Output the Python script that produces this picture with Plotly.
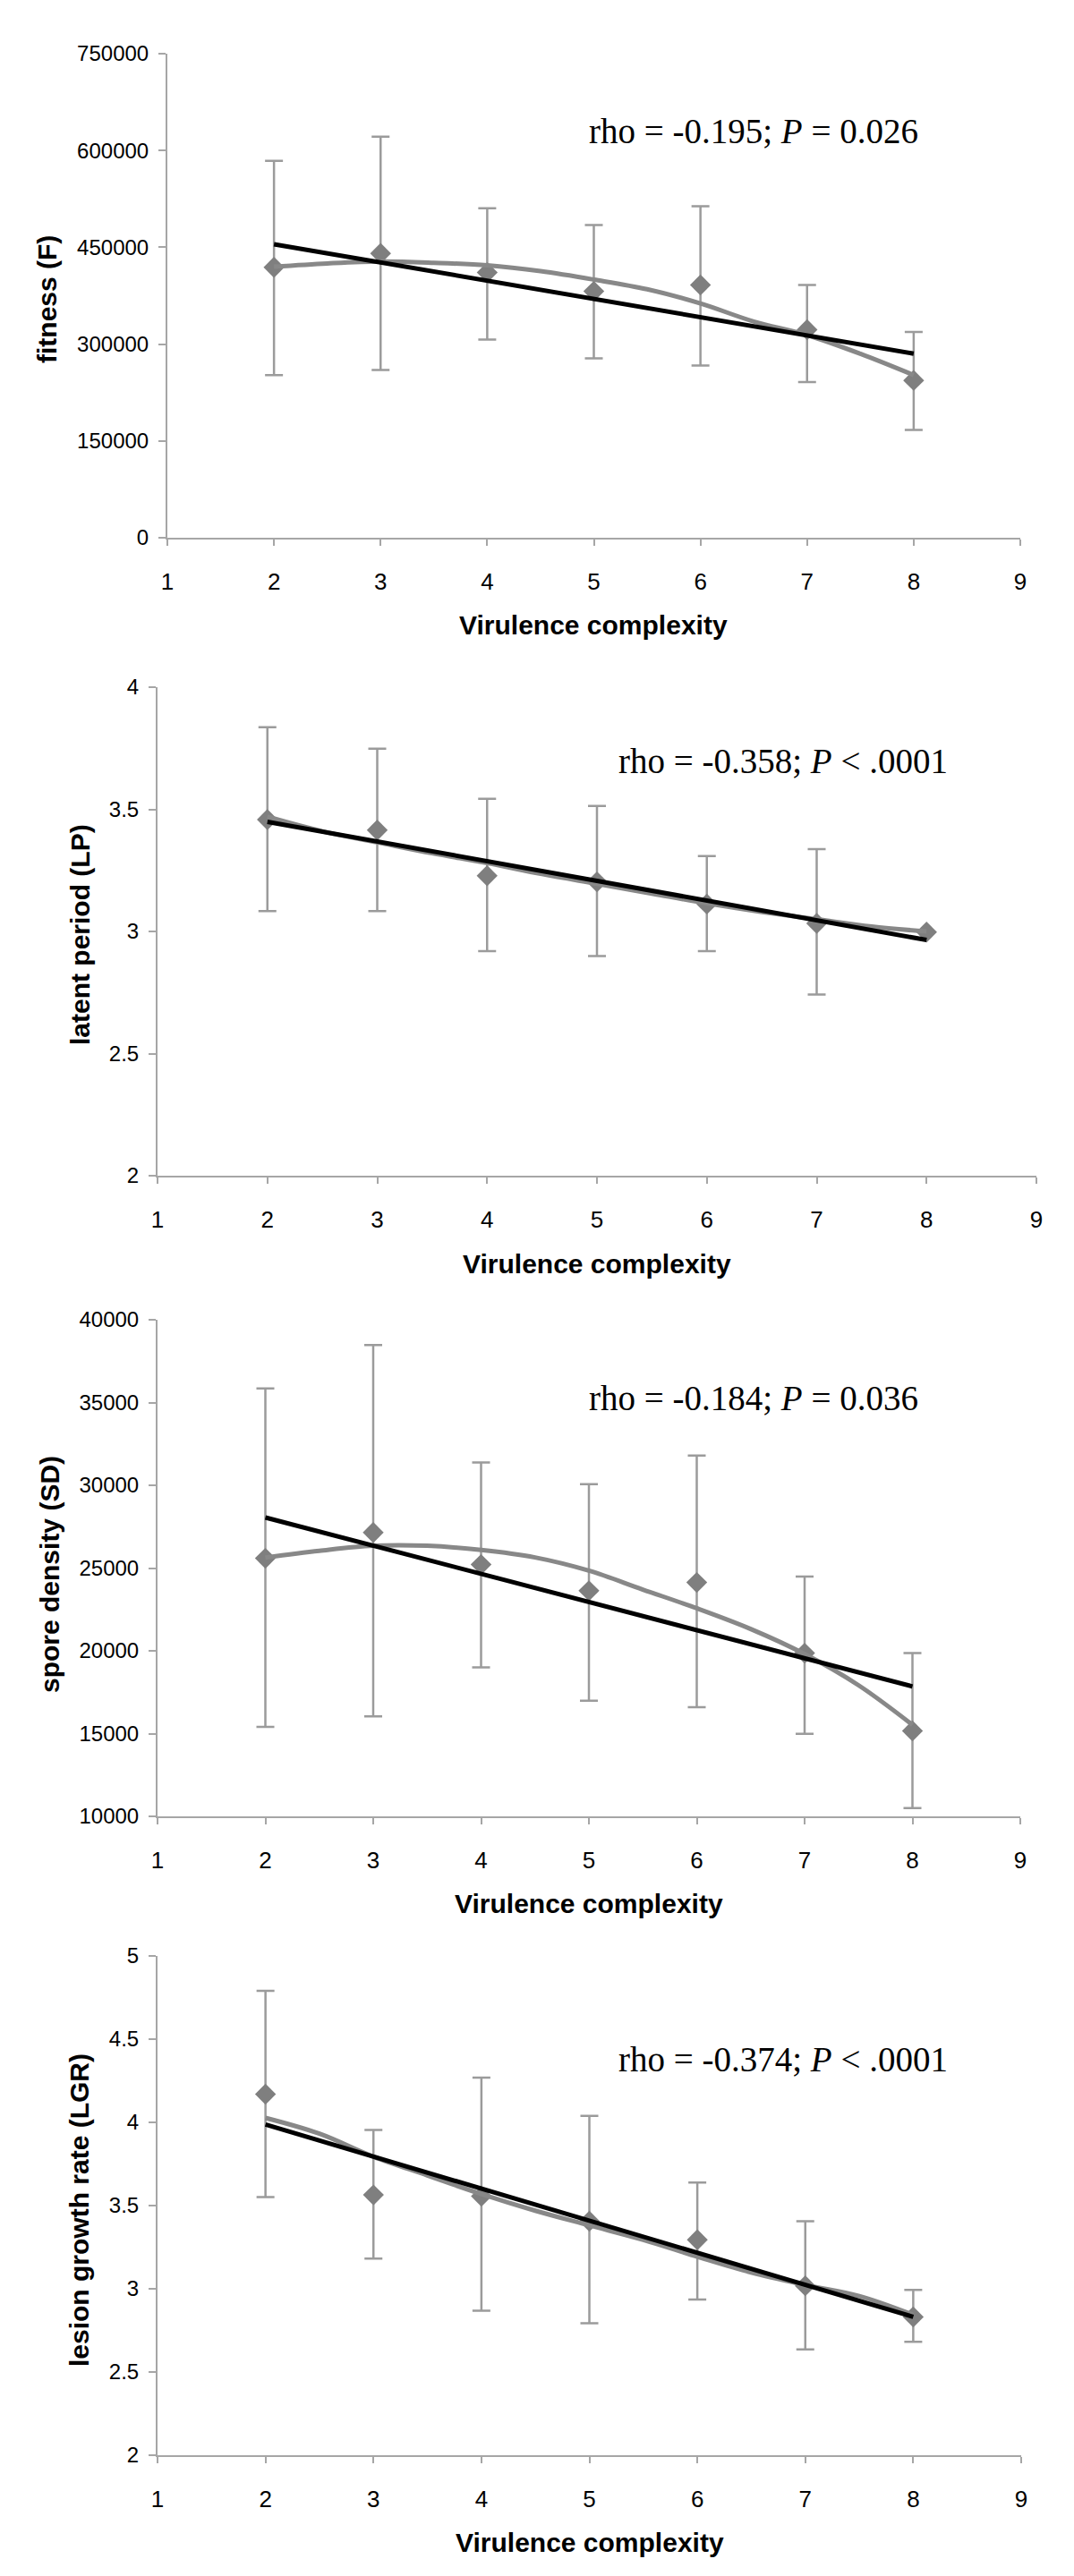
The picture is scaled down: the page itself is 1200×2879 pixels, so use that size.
import plotly.graph_objects as go

W, H = 1200, 2879

# ---------------- data ----------------
x_vals = [2, 3, 4, 5, 6, 7, 8]
x_tick_vals = [1, 2, 3, 4, 5, 6, 7, 8, 9]
curve_x = [2, 2.5, 3, 3.5, 4, 4.5, 5, 5.5, 6, 6.5, 7, 7.5, 8]
trend_x = [2, 8]
x_title = "Virulence complexity"

# Panel 1: fitness (F)
fit_mean = [419000, 440600, 410900, 381800, 391700, 322400, 243800]
fit_upper = [584000, 621300, 510500, 484500, 513600, 391700, 318700]
fit_lower = [251900, 259900, 306900, 277800, 266700, 241300, 167100]
fit_curve = [420000, 425000, 428000, 426000, 422000, 413000, 400000,
             385000, 363000, 335000, 314000, 285000, 252000]
fit_trend = [454800, 285300]
fit_ticks = [0, 150000, 300000, 450000, 600000, 750000]
fit_title = "fitness (F)"
fit_stat = "rho = -0.195; <i>P</i> = 0.026"

# Panel 2: latent period (LP)
lp_mean = [3.458, 3.415, 3.228, 3.203, 3.112, 3.033, 2.997]
lp_upper = [3.836, 3.748, 3.543, 3.514, 3.309, 3.337, 2.997]
lp_lower = [3.083, 3.083, 2.919, 2.899, 2.919, 2.742, 2.997]
lp_curve = [3.47, 3.41, 3.365, 3.32, 3.28, 3.235, 3.195,
            3.155, 3.115, 3.08, 3.05, 3.02, 3.0]
lp_trend = [3.449, 2.965]
lp_ticks = [2, 2.5, 3, 3.5, 4]
lp_title = "latent period (LP)"
lp_stat = "rho = -0.358; <i>P</i> &lt; .0001"

# Panel 3: spore density (SD)
sd_mean = [25590, 27150, 25210, 23630, 24130, 19860, 15160]
sd_upper = [35850, 38470, 31380, 30070, 31800, 24480, 19860]
sd_lower = [15410, 16040, 19000, 16990, 16590, 14980, 10500]
sd_curve = [25640, 26040, 26345, 26345, 26090, 25640, 24840,
            23700, 22570, 21320, 19810, 17920, 15530]
sd_trend = [28055, 17846]
sd_ticks = [10000, 15000, 20000, 25000, 30000, 35000, 40000]
sd_title = "spore density (SD)"
sd_stat = "rho = -0.184; <i>P</i> = 0.036"

# Panel 4: lesion growth rate (LGR)
lgr_mean = [4.169, 3.564, 3.556, 3.406, 3.294, 3.018, 2.831]
lgr_upper = [4.790, 3.954, 4.269, 4.039, 3.639, 3.406, 2.993]
lgr_lower = [3.551, 3.181, 2.868, 2.793, 2.936, 2.636, 2.681]
lgr_curve = [4.027, 3.932, 3.794, 3.681, 3.569, 3.469, 3.381,
             3.294, 3.193, 3.098, 3.023, 2.956, 2.843]
lgr_trend = [3.987, 2.831]
lgr_ticks = [2, 2.5, 3, 3.5, 4, 4.5, 5]
lgr_title = "lesion growth rate (LGR)"
lgr_stat = "rho = -0.374; <i>P</i> &lt; .0001"

# ---------------- layout geometry (pixels) ----------------
panels = [
    dict(mean=fit_mean, upper=fit_upper, lower=fit_lower, curve=fit_curve, trend=fit_trend,
         ticks=fit_ticks, title=fit_title, stat=fit_stat,
         px=(187, 1140), py=(60, 601), stat_xy=(842, 146), ytitle_xy=(53, 335), xtitle_y=698),
    dict(mean=lp_mean, upper=lp_upper, lower=lp_lower, curve=lp_curve, trend=lp_trend,
         ticks=lp_ticks, title=lp_title, stat=lp_stat,
         px=(176, 1158), py=(768, 1314), stat_xy=(875, 850), ytitle_xy=(89, 1045), xtitle_y=1412),
    dict(mean=sd_mean, upper=sd_upper, lower=sd_lower, curve=sd_curve, trend=sd_trend,
         ticks=sd_ticks, title=sd_title, stat=sd_stat,
         px=(176, 1140), py=(1475, 2030), stat_xy=(842, 1563), ytitle_xy=(55, 1760), xtitle_y=2127),
    dict(mean=lgr_mean, upper=lgr_upper, lower=lgr_lower, curve=lgr_curve, trend=lgr_trend,
         ticks=lgr_ticks, title=lgr_title, stat=lgr_stat,
         px=(176, 1141), py=(2186, 2744), stat_xy=(875, 2301), ytitle_xy=(88, 2470), xtitle_y=2841),
]

MARKER_GRAY = "#7f7f7f"
CURVE_GRAY = "#888888"
ERR_GRAY = "#9b9b9b"
AXIS_GRAY = "#a6a6a6"
SANS = "Liberation Sans, Arial, sans-serif"
SERIF = "Liberation Serif, Times New Roman, serif"


def fx(p):
    return p / W


def fy(p):
    return 1 - p / H


fig = go.Figure()
layout = dict(
    template="none",
    width=W, height=H, margin=dict(l=0, r=0, t=0, b=0, pad=0, autoexpand=False),
    paper_bgcolor="white", plot_bgcolor="white", showlegend=False,
    annotations=[],
)

for i, p in enumerate(panels, start=1):
    xa = "x" if i == 1 else f"x{i}"
    ya = "y" if i == 1 else f"y{i}"
    err_plus = [u - m for u, m in zip(p["upper"], p["mean"])]
    err_minus = [m - l for m, l in zip(p["mean"], p["lower"])]

    fig.add_trace(go.Scatter(
        x=x_vals, y=p["mean"], mode="markers", xaxis=xa, yaxis=ya,
        marker=dict(symbol="diamond", size=18, color=MARKER_GRAY, line=dict(width=0)),
        error_y=dict(type="data", symmetric=False, array=err_plus, arrayminus=err_minus,
                     color=ERR_GRAY, thickness=2.5, width=10),
        hoverinfo="skip",
    ))
    fig.add_trace(go.Scatter(
        x=curve_x, y=p["curve"], mode="lines", xaxis=xa, yaxis=ya,
        line=dict(color=CURVE_GRAY, width=5, shape="spline"),
        hoverinfo="skip",
    ))
    fig.add_trace(go.Scatter(
        x=trend_x, y=p["trend"], mode="lines", xaxis=xa, yaxis=ya,
        line=dict(color="black", width=5),
        hoverinfo="skip",
    ))

    yt = p["ticks"]
    layout["xaxis" if i == 1 else f"xaxis{i}"] = dict(
        domain=[fx(p["px"][0]), fx(p["px"][1])], anchor=ya, automargin=False,
        range=[1, 9], tickvals=x_tick_vals, ticktext=[str(v) for v in x_tick_vals],
        showline=True, linecolor=AXIS_GRAY, linewidth=2,
        ticks="outside", ticklen=7, tickwidth=2, tickcolor=AXIS_GRAY,
        showgrid=False, zeroline=False, ticklabelstandoff=18,
        tickfont=dict(family=SANS, size=26, color="black"),
    )
    layout["yaxis" if i == 1 else f"yaxis{i}"] = dict(
        domain=[fy(p["py"][1]), fy(p["py"][0])], anchor=xa, automargin=False,
        range=[yt[0], yt[-1]], tickvals=yt, ticktext=[f"{v:g}" if v < 1000 else str(int(v)) for v in yt],
        showline=True, linecolor=AXIS_GRAY, linewidth=2,
        ticks="outside", ticklen=8, tickwidth=2, tickcolor=AXIS_GRAY,
        showgrid=False, zeroline=False, ticklabelstandoff=6,
        tickfont=dict(family=SANS, size=24, color="black"),
    )

    layout["annotations"] += [
        dict(text=p["stat"], xref="paper", yref="paper",
             x=fx(p["stat_xy"][0]), y=fy(p["stat_xy"][1]), xanchor="center", yanchor="middle",
             showarrow=False, font=dict(family=SERIF, size=39, color="black")),
        dict(text="<b>" + p["title"] + "</b>", xref="paper", yref="paper",
             x=fx(p["ytitle_xy"][0]), y=fy(p["ytitle_xy"][1]), xanchor="center", yanchor="middle",
             textangle=-90, showarrow=False, font=dict(family=SANS, size=30, color="black")),
        dict(text="<b>" + x_title + "</b>", xref="paper", yref="paper",
             x=fx((p["px"][0] + p["px"][1]) / 2), y=fy(p["xtitle_y"]), xanchor="center", yanchor="middle",
             showarrow=False, font=dict(family=SANS, size=30, color="black")),
    ]

fig.update_layout(**layout)
fig.write_html("out.html", config={"displayModeBar": False},
               post_script="document.body.style.margin='0';document.body.style.overflow='hidden';")
